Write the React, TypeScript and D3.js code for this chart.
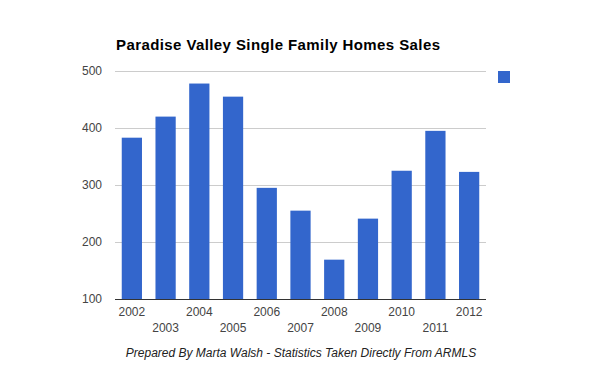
import React, { useEffect, useRef } from 'react';
import * as d3 from 'd3';

const years = ['2002', '2003', '2004', '2005', '2006', '2007', '2008', '2009', '2010', '2011', '2012'];
const sales = [383, 420, 478, 455, 295, 255, 169, 241, 325, 395, 323];
const yTicks = [100, 200, 300, 400, 500];

const W = 600;
const H = 371;
const margin = { top: 71, right: 114, bottom: 72, left: 115 };
const barColor = '#3366cc';
const font = 'Arial, "Liberation Sans", sans-serif';

function Chart() {
  const ref = useRef<SVGSVGElement>(null);

  useEffect(() => {
    const svg = d3.select(ref.current);
    svg.selectAll('*').remove();

    const innerW = W - margin.left - margin.right;
    const innerH = H - margin.top - margin.bottom;

    const x = d3.scaleBand().domain(years).range([0, innerW]).paddingInner(0.4).paddingOuter(0.2);
    const y = d3.scaleLinear().domain([100, 500]).range([innerH, 0]);

    svg.append('text')
      .attr('x', 116)
      .attr('y', 50)
      .attr('font-family', font)
      .attr('font-weight', 'bold')
      .attr('font-size', 15)
      .attr('textLength', 324)
      .attr('lengthAdjust', 'spacing')
      .attr('fill', '#000')
      .text('Paradise Valley Single Family Homes Sales');

    const g = svg.append('g').attr('transform', `translate(${margin.left},${margin.top})`);

    // gridlines
    g.selectAll('line.grid')
      .data(yTicks)
      .enter()
      .append('line')
      .attr('x1', 0)
      .attr('x2', innerW)
      .attr('y1', d => Math.round(y(d)) + 0.5)
      .attr('y2', d => Math.round(y(d)) + 0.5)
      .attr('stroke', '#cccccc');

    g.selectAll('text.ytick')
      .data(yTicks)
      .enter()
      .append('text')
      .attr('x', -13)
      .attr('y', d => y(d) + 4)
      .attr('text-anchor', 'end')
      .attr('font-family', font)
      .attr('font-size', 12)
      .attr('fill', '#444')
      .text(d => d);

    g.selectAll('rect.bar')
      .data(sales)
      .enter()
      .append('rect')
      .attr('x', (d, i) => x(years[i])!)
      .attr('width', x.bandwidth())
      .attr('y', d => y(d))
      .attr('height', d => innerH - y(d))
      .attr('fill', barColor);

    // baseline
    g.append('line')
      .attr('x1', 0)
      .attr('x2', innerW)
      .attr('y1', innerH + 0.5)
      .attr('y2', innerH + 0.5)
      .attr('stroke', '#333');

    g.selectAll('text.xtick')
      .data(years)
      .enter()
      .append('text')
      .attr('x', d => x(d)! + x.bandwidth() / 2)
      .attr('y', (d, i) => innerH + (i % 2 === 0 ? 17 : 33))
      .attr('text-anchor', 'middle')
      .attr('font-family', font)
      .attr('font-size', 12)
      .attr('fill', '#444')
      .text(d => d);

    // legend
    svg.append('rect')
      .attr('x', 498)
      .attr('y', 71)
      .attr('width', 12)
      .attr('height', 12)
      .attr('fill', barColor);

    svg.append('text')
      .attr('x', 301)
      .attr('y', 357)
      .attr('text-anchor', 'middle')
      .attr('font-family', font)
      .attr('font-style', 'italic')
      .attr('font-size', 12)
      .attr('fill', '#222')
      .text('Prepared By Marta Walsh - Statistics Taken Directly From ARMLS');
  }, []);

  return <svg ref={ref} width={W} height={H} style={{ display: 'block', background: '#fff' }} />;
}

export default function App() {
  return (
    <div style={{ position: 'absolute', left: 0, top: 0 }}>
      <Chart />
    </div>
  );
}
